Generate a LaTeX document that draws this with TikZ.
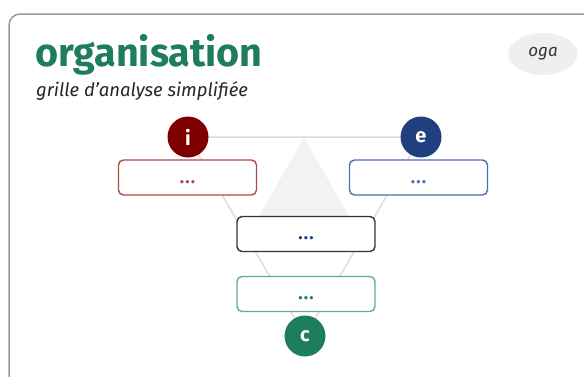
\documentclass[tikz,border=0pt]{standalone}
\usepackage{fontspec}
\setmainfont{Fira Sans}
\usetikzlibrary{shapes.geometric}
\definecolor{ogreen}{HTML}{1E7D5A}
\definecolor{ored}{HTML}{7F0000}
\definecolor{oblue}{HTML}{1F3F7F}
\definecolor{redline}{HTML}{B04848}
\definecolor{blueline}{HTML}{4A6FB0}
\definecolor{greenline}{HTML}{5DAE8B}
\definecolor{boxdark}{HTML}{333333}
\definecolor{linkgray}{HTML}{DDDDDD}
\definecolor{trigray}{HTML}{F2F2F2}
\definecolor{framegray}{HTML}{9A9A9A}
\definecolor{badgegray}{HTML}{EFEFEF}
\newcommand{\tdots}{\raisebox{-12pt}{.\hspace{1.2pt}.\hspace{1.2pt}.}}
\tikzset{
  cardbox/.style={draw, line width=1.4pt, rounded corners=5pt, fill=white,
    minimum width=138pt, minimum height=35pt, inner sep=0pt,
    font=\fontsize{18}{18}\selectfont\bfseries},
  pole/.style={circle, fill=#1, minimum size=41pt, inner sep=0pt, text=white,
    font=\fontsize{20}{20}\selectfont\bfseries},
  link/.style={draw=linkgray, line width=1.5pt}
}
\begin{document}
\begin{tikzpicture}[x=1pt,y=-1pt]
\useasboundingbox (0,0) rectangle (584,376);
\begin{scope}
\clip (0,0) rectangle (584,376);
\draw[framegray, line width=1.5pt, rounded corners=11pt] (9,14) rectangle (596,400);
\end{scope}
% title
\node[anchor=base west, inner sep=0pt, text=ogreen,
  font=\fontsize{39.5}{39.5}\selectfont\bfseries] (title) at (35,66) {organisation};
\node[anchor=base west, inner sep=0pt, text=black!85,
  font=\fontsize{18.5}{18.5}\selectfont\itshape] (subtitle) at (36,96) {grille d’analyse simplifiée};
\node[ellipse, fill=badgegray, minimum width=69pt, minimum height=42pt, inner sep=0pt,
  font=\fontsize{17}{17}\selectfont\itshape, text=black!80] (badge) at (543,54) {oga};
% background triangle
\fill[trigray] (304,138) -- (366,245) -- (242,245) -- cycle;
% poles
\coordinate (pi) at (188,137);
\coordinate (pe) at (421,137);
\coordinate (pc) at (305,336);
\draw[link] (pi) -- (pe) -- (pc) -- cycle;
\node[pole=ored] (i) at (pi) {i};
\node[pole=oblue] (e) at (pe) {e};
% boxes
\node[cardbox, draw=redline, text=redline] (bi) at (187.5,177.5) {\tdots};
\node[cardbox, draw=blueline, text=blueline] (be) at (418.5,177.5) {\tdots};
\node[cardbox, draw=boxdark, text=oblue] (bm) at (306,234) {\tdots};
\node[cardbox, draw=greenline, text=ogreen] (bc) at (306,294) {\tdots};
\node[pole=ogreen] (c) at (pc) {c};
\end{tikzpicture}
\end{document}
